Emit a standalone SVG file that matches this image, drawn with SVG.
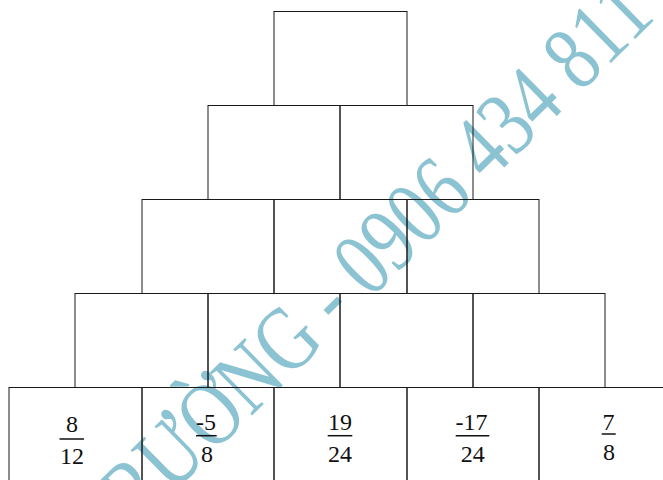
<svg xmlns="http://www.w3.org/2000/svg" width="663" height="480" viewBox="0 0 663 480">
<style>
.box{fill:none;stroke:#1a1a1a;stroke-width:1}
.num{font-family:"Liberation Serif","Times New Roman",serif;font-size:24px;fill:#111;text-anchor:middle}
.bar{stroke:#111;stroke-width:1.5}
.wm{font-family:"Liberation Serif","Times New Roman",serif;font-size:92px;fill:#8cc3d3;text-anchor:end}
</style>
<rect width="663" height="480" fill="#fff"/>
<g id="watermark">
<text class="wm" transform="translate(656.7,17.8) rotate(-44.5) scale(0.8,1)" x="0" y="0">TRƯỜNG - 0906 434 811</text>
</g>
<g id="connectors"/>
<g id="r1c1"><rect class="box" x="274" y="11.5" width="133" height="94"/></g>
<g id="r2c1"><rect class="box" x="208" y="105.5" width="132" height="94"/></g>
<g id="r2c2"><rect class="box" x="340" y="105.5" width="133" height="94"/></g>
<g id="r3c1"><rect class="box" x="142" y="199.5" width="132" height="94"/></g>
<g id="r3c2"><rect class="box" x="274" y="199.5" width="133" height="94"/></g>
<g id="r3c3"><rect class="box" x="407" y="199.5" width="132" height="94"/></g>
<g id="r4c1"><rect class="box" x="75" y="293.5" width="133" height="94"/></g>
<g id="r4c2"><rect class="box" x="208" y="293.5" width="132" height="94"/></g>
<g id="r4c3"><rect class="box" x="340" y="293.5" width="133" height="94"/></g>
<g id="r4c4"><rect class="box" x="473" y="293.5" width="132" height="94"/></g>
<g id="r5c1"><rect class="box" x="9" y="387.5" width="133" height="94"/>
<text class="num" x="72" y="431.5">8</text><line class="bar" x1="59.5" y1="439" x2="84" y2="439"/><text class="num" x="72" y="464">12</text></g>
<g id="r5c2"><rect class="box" x="142" y="387.5" width="132" height="94"/>
<text class="num" x="206" y="430">-5</text><line class="bar" x1="196" y1="435.7" x2="216.7" y2="435.7"/><text class="num" x="207" y="461.7">8</text></g>
<g id="r5c3"><rect class="box" x="274" y="387.5" width="133" height="94"/>
<text class="num" x="340" y="430">19</text><line class="bar" x1="327.7" y1="435.7" x2="352.3" y2="435.7"/><text class="num" x="340" y="461.7">24</text></g>
<g id="r5c4"><rect class="box" x="407" y="387.5" width="132" height="94"/>
<text class="num" x="471.5" y="430">-17</text><line class="bar" x1="455.7" y1="435.7" x2="489.3" y2="435.7"/><text class="num" x="472.8" y="461.7">24</text></g>
<g id="r5c5"><rect class="box" x="539" y="387.5" width="133" height="94"/>
<text class="num" x="608.5" y="430">7</text><line class="bar" x1="601.7" y1="434" x2="615.7" y2="434"/><text class="num" x="609" y="460">8</text></g>
</svg>
